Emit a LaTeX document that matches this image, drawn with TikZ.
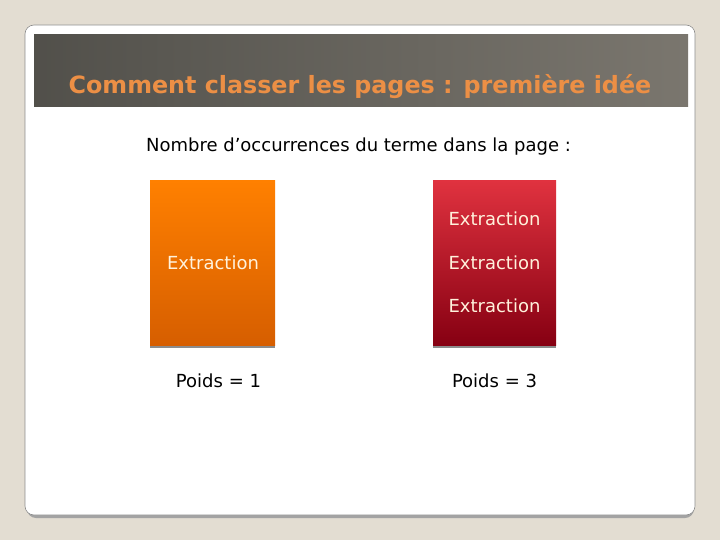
\documentclass[tikz,border=0pt]{standalone}
\usepackage{fontspec}
\setmainfont{DejaVu Sans}
\definecolor{bg}{HTML}{E3DDD2}
\definecolor{titleorange}{HTML}{EC8F45}
\definecolor{orangetop}{HTML}{FF8000}
\definecolor{orangebot}{HTML}{D65E00}
\definecolor{redtop}{HTML}{E0323F}
\definecolor{redbot}{HTML}{860012}
\definecolor{boxtext}{HTML}{FFF2DC}
\definecolor{tbA}{HTML}{3C3B37}
\definecolor{tbB}{HTML}{5A5852}
\definecolor{tbC}{HTML}{7A766E}
\definecolor{tbD}{HTML}{88837A}
\definecolor{tbE}{HTML}{4E4B45}
\pgfdeclarehorizontalshading{titlebar}{100bp}{
  color(0bp)=(tbA);
  color(35bp)=(tbB);
  color(75bp)=(tbC);
  color(96bp)=(tbD);
  color(100bp)=(tbE)}
\tikzset{
  panel/.style={fill=white, draw=black!45, line width=0.6pt, rounded corners=9pt},
  blockbox/.style={minimum width=125pt, minimum height=165pt, inner sep=0pt},
  boxlabel/.style={text=boxtext, font=\fontsize{18}{21}\selectfont},
  weight/.style={text=black, font=\fontsize{18}{21}\selectfont},
}
\begin{document}
\begin{tikzpicture}[x=1pt,y=-1pt]
\fill[bg] (0,0) rectangle (720,540);
\useasboundingbox (0,0) rectangle (720,540);
% shadow
\fill[black!36, rounded corners=9pt] (27,40) rectangle (694,518);
\draw[panel] (25,25) rectangle (695,515);
% title bar
\shade[shading=titlebar] (34,35) rectangle (688,107);
\node[text=titleorange, font=\bfseries\fontsize{23.8}{27}\selectfont] (title) at (360,87) {Comment classer les pages : première idée};
\node[font=\fontsize{18}{21}\selectfont] (sub) at (358.5,146.5) {Nombre d’occurrences du terme dans la page :};
% boxes
\fill[black!45] (150,345) rectangle (275,347.5);
\node[blockbox, top color=orangetop, bottom color=orangebot, anchor=north west] (obox) at (150,180) {};
\fill[black!45] (433,345) rectangle (556,347.5);
\node[blockbox, minimum width=123pt, top color=redtop, bottom color=redbot, anchor=north west] (rbox) at (433,180) {};
\node[boxlabel] (o1) at (213,263) {Extraction};
\node[boxlabel] (r1) at (494.5,219) {Extraction};
\node[boxlabel] (r2) at (494.5,263) {Extraction};
\node[boxlabel] (r3) at (494.5,306) {Extraction};
\node[weight] (p1) at (218.5,381) {Poids = 1};
\node[weight] (p3) at (494.5,381) {Poids = 3};
\end{tikzpicture}
\end{document}
